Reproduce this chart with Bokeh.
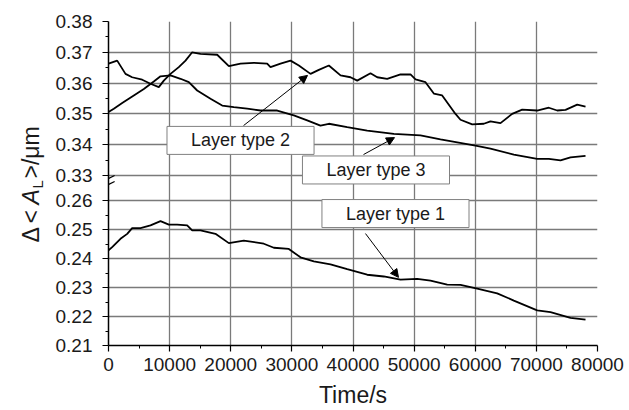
import math
import numpy as np
from bokeh.plotting import figure
from bokeh.layouts import row
from bokeh.models import Range1d, FixedTicker, Label, Arrow, NormalHead, BasicTickFormatter
from bokeh.embed import file_html
from bokeh.resources import INLINE

# ---------------- data ----------------
t_type1 = [0, 600, 1960, 3060, 3870, 5240, 6870, 8510, 9870, 11230, 12870, 13690, 15050,
           17500, 19690, 22140, 25410, 27050, 29500, 31410, 33590, 36320, 39050, 42320,
           45040, 47770, 50500, 52680, 55410, 57590, 60320, 63590, 66310, 70130, 72310,
           75580, 78040]
v_type1 = [0.2428, 0.2439, 0.2468, 0.2485, 0.2505, 0.2505, 0.2514, 0.2529, 0.2517, 0.2517,
           0.2514, 0.2497, 0.2497, 0.2485, 0.2453, 0.2462, 0.2451, 0.2437, 0.2433, 0.2404,
           0.2390, 0.2380, 0.2363, 0.2344, 0.2338, 0.2327, 0.2330, 0.2324, 0.2310, 0.2309,
           0.2296, 0.2280, 0.2255, 0.2221, 0.2215, 0.2195, 0.2189]

t_type2 = [0, 1420, 2780, 3870, 5510, 6870, 8230, 9050, 10140, 11500, 12600, 13690, 15050,
           17780, 19690, 21600, 23780, 25960, 26500, 28140, 29780, 31140, 33050, 34410,
           36050, 37960, 39590, 40690, 42860, 43960, 45590, 47770, 49410, 50230, 51860,
           53220, 54590, 56770, 57590, 59500, 61400, 62490, 64130, 66040, 67680, 70130,
           72040, 73410, 74770, 76680, 78040]
v_type2 = [0.3663, 0.3673, 0.3630, 0.3619, 0.3611, 0.3598, 0.3587, 0.3608, 0.3630, 0.3652,
           0.3673, 0.3700, 0.3695, 0.3692, 0.3655, 0.3663, 0.3666, 0.3663, 0.3652, 0.3663,
           0.3673, 0.3657, 0.3630, 0.3643, 0.3657, 0.3625, 0.3619, 0.3608, 0.3632, 0.3619,
           0.3614, 0.3628, 0.3628, 0.3612, 0.3603, 0.3566, 0.3560, 0.3500, 0.3481, 0.3466,
           0.3468, 0.3476, 0.3470, 0.3500, 0.3514, 0.3511, 0.3520, 0.3511, 0.3513, 0.3530,
           0.3524]

t_type3 = [0, 870, 2240, 4140, 5780, 7410, 8510, 10140, 11780, 13140, 14510, 16690, 18600,
           20500, 22690, 24870, 27600, 30320, 32510, 34680, 36050, 39050, 42320, 46680,
           51040, 54310, 60040, 62490, 66310, 70130, 72040, 73950, 75580, 78040]
v_type3 = [0.3506, 0.3517, 0.3535, 0.3560, 0.3581, 0.3605, 0.3622, 0.3625, 0.3614, 0.3603,
           0.3576, 0.3549, 0.3527, 0.3522, 0.3517, 0.3511, 0.3511, 0.3495, 0.3479, 0.3462,
           0.3468, 0.3457, 0.3446, 0.3435, 0.3430, 0.3417, 0.3397, 0.3387, 0.3368, 0.3354,
           0.3354, 0.3349, 0.3359, 0.3364]

x_ticks = [0, 10000, 20000, 30000, 40000, 50000, 60000, 70000, 80000]
x_minor = [5000, 15000, 25000, 35000, 45000, 55000, 65000, 75000]
y_ticks_low = [0.21, 0.22, 0.23, 0.24, 0.25, 0.26]
y_ticks_up = [0.33, 0.34, 0.35, 0.36, 0.37, 0.38]
y_minor_low = [0.215, 0.225, 0.235, 0.245, 0.255]
y_minor_up = [0.335, 0.345, 0.355, 0.365, 0.375]

# ---------------- broken y axis: upper block shifted down ----------------
LOW_TOP = 0.26
UP_BOTTOM = 0.33
GAP = 0.00862          # axis units left empty between 0.26 and 0.33
UP_SCALE = 1.0621      # upper block is drawn slightly taller per unit


def to_axis(v):
    v = np.asarray(v, dtype=float)
    return np.where(v >= 0.3, LOW_TOP + GAP + (v - UP_BOTTOM) * UP_SCALE, v)


def ya(v):
    return round(float(to_axis(v)), 7)


FONT = "Liberation Sans"
TXT = "#1a1a1a"
y_top = ya(0.38)

# ---------------- main plot ----------------
p = figure(width=584, height=410, x_range=Range1d(0, 80000), y_range=Range1d(0.21, y_top),
           output_backend="svg", toolbar_location=None,
           min_border_left=63, min_border_right=32, min_border_top=21, min_border_bottom=65,
           background_fill_color="white", border_fill_color="white")
p.outline_line_color = None

y_major = [ya(v) for v in y_ticks_low + y_ticks_up]
y_min = [ya(v) for v in y_minor_low + y_minor_up]
p.xaxis.ticker = FixedTicker(ticks=x_ticks, minor_ticks=x_minor)
p.xaxis.formatter = BasicTickFormatter(use_scientific=False)
p.yaxis.ticker = FixedTicker(ticks=y_major, minor_ticks=y_min)
p.yaxis.major_label_overrides = {ya(v): f"{v:.2f}" for v in y_ticks_low + y_ticks_up}

for ax in (p.xaxis[0], p.yaxis[0]):
    ax.axis_line_color = "black"
    ax.axis_line_width = 1.5
    ax.major_tick_line_color = "black"
    ax.minor_tick_line_color = "black"
    ax.major_tick_line_width = 1.2
    ax.minor_tick_line_width = 1.0
    ax.major_tick_out = 6
    ax.major_tick_in = 0
    ax.minor_tick_out = 3
    ax.minor_tick_in = 0
    ax.major_label_text_font = FONT
    ax.major_label_text_font_size = "19px"
    ax.major_label_text_color = TXT
p.xaxis.major_label_standoff = 6
p.yaxis.major_label_standoff = 10

p.xaxis.axis_label = "Time/s"
p.xaxis.axis_label_text_font = FONT
p.xaxis.axis_label_text_font_size = "23px"
p.xaxis.axis_label_text_font_style = "normal"
p.xaxis.axis_label_text_color = TXT
p.xaxis.axis_label_standoff = 8

# grid
p.xgrid.ticker = FixedTicker(ticks=x_ticks)
p.ygrid.ticker = FixedTicker(ticks=y_major)
for g in (p.xgrid[0], p.ygrid[0]):
    g.grid_line_color = "#7a7a7a"
    g.grid_line_width = 1.3

# curves
for t, v in ((t_type1, v_type1), (t_type2, v_type2), (t_type3, v_type3)):
    p.line(t, to_axis(v), line_color="black", line_width=1.8)

# axis break marks
for y0, y1 in ((0.26655, 0.26862), (0.26448, 0.26655)):
    p.add_layout(Arrow(end=None, x_start=-1000, y_start=y0, x_end=1000, y_end=y1,
                       line_color="black", line_width=1.2))

# annotation arrows
arrows = [((22090, ya(0.3462)), (32560, ya(0.3625))),
          ((41720, ya(0.3368)), (46790, ya(0.3423))),
          ((42040, ya(0.2486)), (47440, ya(0.2335)))]
for (xs, ys), (xe, ye) in arrows:
    p.add_layout(Arrow(end=NormalHead(size=8, fill_color="black", line_color="black"),
                       x_start=xs, y_start=ys, x_end=xe, y_end=ye,
                       line_color="black", line_width=1))

# boxed labels
for txt, x, y in (("Layer type 2", 21600, ya(0.3414)),
                  ("Layer type 3", 43760, ya(0.3318)),
                  ("Layer type 1", 46950, ya(0.2555))):
    p.add_layout(Label(x=x, y=y, text=txt, text_font=FONT, text_font_size="18px",
                       text_color=TXT, text_align="center", text_baseline="middle",
                       background_fill_color="white", border_line_color="#808080",
                       border_line_width=1,
                       padding=dict(left=24, right=24, top=4, bottom=4)))

# ---------------- narrow strip holding the y-axis title  Δ<A_L>/μm ----------------
# its frame is aligned with the main frame (top 21 px, bottom 345 px of the page)
lf = figure(width=45, height=410, x_range=Range1d(0, 45), y_range=Range1d(345, 21),
            output_backend="svg", toolbar_location=None, min_border=0,
            min_border_top=21, min_border_bottom=65,
            x_axis_location=None, y_axis_location=None,
            background_fill_color="white", border_fill_color="white")
lf.outline_line_color = None
lf.xgrid.visible = False
lf.ygrid.visible = False

ylab = [("Δ", 30, 242, "23px", "normal"),
        ("<", 30, 223, "23px", "normal"),
        ("A", 30, 204, "23px", "italic"),
        ("L", 36.5, 188, "15px", "normal"),
        (">/μm", 30, 178, "23px", "normal")]
for txt, x, y, fs, st in ylab:
    lf.add_layout(Label(x=x, y=y, text=txt, angle=math.pi / 2, text_font=FONT,
                        text_font_size=fs, text_font_style=st, text_color=TXT,
                        text_align="left", text_baseline="alphabetic"))

layout = row(lf, p, spacing=0)
open("out.html", "w").write(file_html(layout, INLINE))
